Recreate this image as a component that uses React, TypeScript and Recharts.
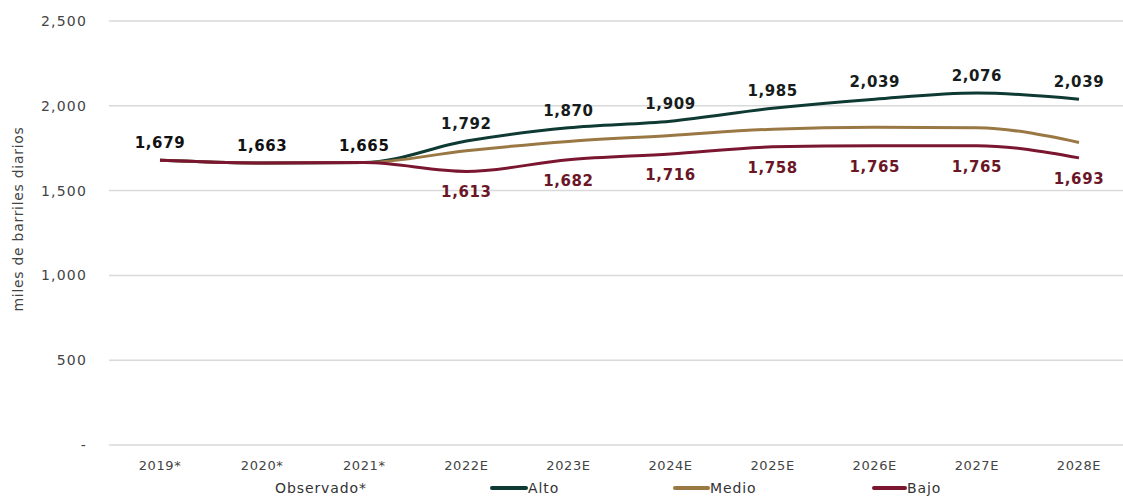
import { CartesianGrid, Label, LabelList, Legend, Line, LineChart, XAxis, YAxis } from "recharts";

const years = ["2019*", "2020*", "2021*", "2022E", "2023E", "2024E", "2025E", "2026E", "2027E", "2028E"];
const alto = [1679, 1663, 1665, 1792, 1870, 1909, 1985, 2039, 2076, 2039];
const medio = [1679, 1663, 1665, 1735, 1790, 1825, 1862, 1873, 1870, 1784];
const bajo = [1679, 1663, 1665, 1613, 1682, 1716, 1758, 1765, 1765, 1693];
const observedCount = 3;
const yTicks = [0, 500, 1000, 1500, 2000, 2500];

const ALTO = "#0e3a33";
const MEDIO = "#9a7844";
const BAJO = "#7b1631";
const FONT = "'DejaVu Sans', sans-serif";

const data = years.map((year, i) => ({
  year,
  alto: alto[i],
  medio: medio[i],
  bajo: bajo[i],
  bajoLabel: i >= observedCount ? bajo[i] : null,
}));

const fmt = (v: number) => (v === 0 ? "-" : v.toLocaleString("en-US"));

const AltoLabel = (props: any) => {
  const { x, y, value, index } = props;
  if (value == null) return null;
  return (
    <text x={x} y={y - 17} textAnchor="middle" dominantBaseline="central" letterSpacing={0.6}
      fontFamily={FONT} fontWeight="bold" fontSize={15} fill={index < observedCount ? "#111" : "#161c1b"}>
      {fmt(value)}
    </text>
  );
};

const BajoLabel = (props: any) => {
  const { x, y, value } = props;
  if (value == null) return null;
  return (
    <text x={x} y={y + 21} textAnchor="middle" dominantBaseline="central" letterSpacing={0.6}
      fontFamily={FONT} fontWeight="bold" fontSize={15} fill="#6a1627">
      {fmt(value)}
    </text>
  );
};

const legendItems = [
  { name: "Alto", color: ALTO, left: 490, len: 38 },
  { name: "Medio", color: MEDIO, left: 673, len: 37 },
  { name: "Bajo", color: BAJO, left: 872, len: 35 },
];

const renderLegend = () => (
  <div style={{ position: "relative", height: 30, width: 1140, fontFamily: FONT, fontSize: 14, letterSpacing: 0.9, color: "#333" }}>
    <span style={{ position: "absolute", left: 275, top: 12 }}>Observado*</span>
    {legendItems.map((it) => (
      <span key={it.name} style={{ position: "absolute", left: it.left, top: 12, display: "flex", alignItems: "center" }}>
        <span style={{ display: "inline-block", width: it.len, height: 4, background: it.color, borderRadius: 2 }} />
        <span>{it.name}</span>
      </span>
    ))}
  </div>
);

export default function App() {
  return (
    <div style={{ position: "absolute", left: 0, top: 0, width: 1123, height: 498, overflow: "hidden", background: "#fff" }}>
      <LineChart width={1140} height={498} data={data} margin={{ top: 21, right: 10, left: 0, bottom: 0 }}>
        <CartesianGrid vertical={false} stroke="#d9d9d9" strokeWidth={1.5} />
        <XAxis dataKey="year" axisLine={false} tickLine={false} tickMargin={10} height={23}
          padding={{ left: 51, right: 51 }}
          tick={{ fontFamily: FONT, fontSize: 13, letterSpacing: 0.6, fill: "#444" }} interval={0} />
        <YAxis domain={[0, 2500]} ticks={yTicks} tickFormatter={fmt} axisLine={false} tickLine={false}
          width={109} tickMargin={16} tick={{ fontFamily: FONT, fontSize: 14, letterSpacing: 1.2, fill: "#444" }}>
          <Label value="miles de barriles diarios" angle={-90} position="insideLeft" offset={18}
            style={{ fontFamily: FONT, fontSize: 14, letterSpacing: 0.7, fill: "#444", textAnchor: "middle" }} dy={-14} />
        </YAxis>
        <Legend verticalAlign="bottom" content={renderLegend} wrapperStyle={{ left: 0 }} />
        <Line type="monotone" dataKey="alto" name="Alto" stroke={ALTO} strokeWidth={3} dot={false} isAnimationActive={false}>
          <LabelList dataKey="alto" content={AltoLabel} />
        </Line>
        <Line type="monotone" dataKey="medio" name="Medio" stroke={MEDIO} strokeWidth={3} dot={false} isAnimationActive={false} />
        <Line type="monotone" dataKey="bajo" name="Bajo" stroke={BAJO} strokeWidth={3} dot={false} isAnimationActive={false}>
          <LabelList dataKey="bajoLabel" content={BajoLabel} />
        </Line>
      </LineChart>
    </div>
  );
}
